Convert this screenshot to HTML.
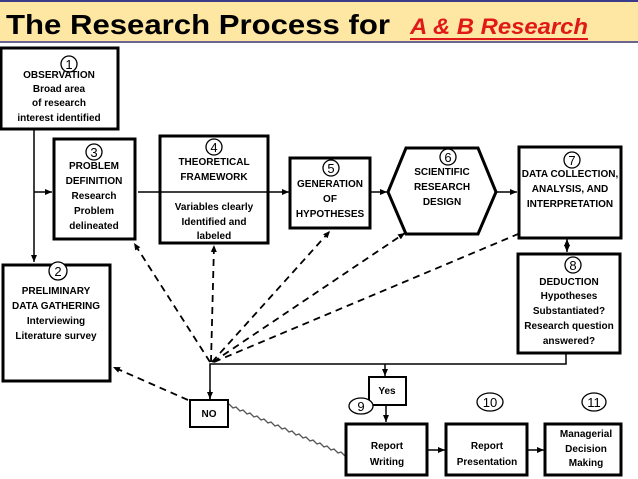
<!DOCTYPE html>
<html><head><style>
body{margin:0;background:#fff;}
svg{display:block;font-family:"Liberation Sans",sans-serif;}
.b{fill:#fff;stroke:#000;stroke-width:3}
.t{font-size:10px;font-weight:bold;text-anchor:middle;fill:#000}
.n{font-size:13px;text-anchor:middle}
.c{fill:#fff;stroke:#000;stroke-width:1.3}
.l{stroke:#000;stroke-width:1.5;fill:none}
.d{stroke:#000;stroke-width:1.8;fill:none;stroke-dasharray:7,5}
</style></head><body>
<svg width="638" height="479" viewBox="0 0 638 479">
<defs><marker id="a" markerWidth="8" markerHeight="8" refX="7" refY="4" orient="auto" markerUnits="userSpaceOnUse"><path d="M0,1 L7,4 L0,7z" fill="#000"/></marker></defs>
<rect x="0" y="0" width="638" height="43" fill="#fde7a2"/>
<line x1="0" y1="1" x2="638" y2="1" stroke="#3a3a8a" stroke-width="2"/>
<line x1="0" y1="42" x2="638" y2="42" stroke="#3a3a8a" stroke-width="1.5"/>
<text x="6" y="34" font-size="28" font-weight="bold" textLength="384" lengthAdjust="spacingAndGlyphs">The Research Process for</text>
<text x="410" y="34" font-size="22" font-weight="bold" font-style="italic" fill="#e01818" textLength="178" lengthAdjust="spacingAndGlyphs">A &amp; B Research</text>
<line x1="410" y1="39" x2="588" y2="39" stroke="#e01818" stroke-width="2"/>

<path class="l" d="M34,129 V262" marker-end="url(#a)"/>
<path class="l" d="M34,192 H52" marker-end="url(#a)"/>
<path class="l" d="M138,192 H289" marker-end="url(#a)"/>
<path class="l" d="M371,192 H387" marker-end="url(#a)"/>
<path class="l" d="M496,192 H517" marker-end="url(#a)"/>
<path class="l" d="M567,244 V252" marker-end="url(#a)"/>
<path class="l" d="M567,247 V239" marker-end="url(#a)"/>
<path class="l" d="M566,353 V364 H210 V399"/>
<path class="l" d="M210,390 V399" marker-end="url(#a)"/>
<path class="l" d="M385,364 V376" marker-end="url(#a)"/>
<path class="l" d="M386,406 V422" marker-end="url(#a)"/>
<path class="l" d="M428,450 H445" marker-end="url(#a)"/>
<path class="l" d="M528,450 H544" marker-end="url(#a)"/>
<path class="d" d="M210,362 L134,243" marker-end="url(#a)"/>
<path class="d" d="M211,362 L214,245" marker-end="url(#a)"/>
<path class="d" d="M212,362 L330,231" marker-end="url(#a)"/>
<path class="d" d="M213,362 L405,233" marker-end="url(#a)"/>
<path class="d" d="M214,362 L530,229" marker-end="url(#a)"/>
<path class="d" d="M188,400 L113,367" marker-end="url(#a)"/>
<path d="M229,404 l4,4 l3,-1 l4,4 l3,-1 l4,4 l3,-1 l4,4 l3,-1 l4,4 l3,-1 l4,4 l3,-1 l4,4 l3,-1 l4,4 l3,-1 l4,4 l3,-1 l4,4 l3,-1 l4,4 l3,-1 l4,4 l3,-1 l4,4 l3,-1 l4,4 l3,-1 l4,4 l3,-1 l4,4 l3,-1 l4,4 l3,-1 l4,4 l3,-1 l4,4 l3,-1 l4,4" stroke="#555" stroke-width="1.3" fill="none"/>

<rect class="b" x="1" y="48" width="117" height="81"/>
<circle class="c" cx="69" cy="64" r="8"/><text class="n" x="69" y="69">1</text>
<text class="t" x="59" y="78">OBSERVATION</text>
<text class="t" x="59" y="92">Broad area</text>
<text class="t" x="59" y="106">of research</text>
<text class="t" x="59" y="121">interest identified</text>

<rect class="b" x="54" y="139" width="81" height="100"/>
<circle class="c" cx="94" cy="152" r="8"/><text class="n" x="94" y="157">3</text>
<text class="t" x="94" y="169">PROBLEM</text>
<text class="t" x="94" y="184">DEFINITION</text>
<text class="t" x="94" y="199">Research</text>
<text class="t" x="94" y="214">Problem</text>
<text class="t" x="94" y="229">delineated</text>

<rect class="b" x="160" y="136" width="108" height="107"/>
<line x1="160" y1="192" x2="268" y2="192" stroke="#000" stroke-width="1.5"/>
<circle class="c" cx="214" cy="147" r="8"/><text class="n" x="214" y="152">4</text>
<text class="t" x="214" y="165">THEORETICAL</text><text class="t" x="214" y="180">FRAMEWORK</text>
<text class="t" x="214" y="210">Variables clearly</text><text class="t" x="214" y="225">Identified and</text><text class="t" x="214" y="239">labeled</text>

<rect class="b" x="290" y="158" width="80" height="70"/>
<circle class="c" cx="331" cy="168" r="8"/><text class="n" x="331" y="173">5</text>
<text class="t" x="330" y="187">GENERATION</text><text class="t" x="330" y="202">OF</text><text class="t" x="330" y="217">HYPOTHESES</text>

<polygon class="b" points="388,192 406,148 478,148 496,192 478,234 406,234"/>
<circle class="c" cx="448" cy="157" r="8"/><text class="n" x="448" y="162">6</text>
<text class="t" x="442" y="175">SCIENTIFIC</text><text class="t" x="442" y="190">RESEARCH</text><text class="t" x="442" y="205">DESIGN</text>

<rect class="b" x="519" y="147" width="102" height="91"/>
<circle class="c" cx="572" cy="160" r="8"/><text class="n" x="572" y="165">7</text>
<text class="t" x="570" y="177">DATA COLLECTION,</text><text class="t" x="570" y="192">ANALYSIS, AND</text><text class="t" x="570" y="207">INTERPRETATION</text>

<rect class="b" x="518" y="254" width="102" height="99"/>
<circle class="c" cx="573" cy="265" r="8"/><text class="n" x="573" y="270">8</text>
<text class="t" x="569" y="285">DEDUCTION</text><text class="t" x="569" y="299">Hypotheses</text><text class="t" x="569" y="314">Substantiated?</text><text class="t" x="569" y="329">Research question</text><text class="t" x="569" y="344">answered?</text>

<rect class="b" x="3" y="265" width="107" height="116"/>
<circle class="c" cx="58" cy="271" r="9"/><text class="n" x="58" y="276">2</text>
<text class="t" x="56" y="294">PRELIMINARY</text><text class="t" x="56" y="309">DATA GATHERING</text><text class="t" x="56" y="324">Interviewing</text><text class="t" x="56" y="339">Literature survey</text>

<rect class="b" x="369" y="377" width="37" height="28" style="stroke-width:2"/>
<text class="t" x="387" y="394">Yes</text>
<ellipse class="c" cx="361" cy="406" rx="12" ry="8"/><text class="n" x="361" y="411">9</text>
<rect class="b" x="190" y="400" width="38" height="27" style="stroke-width:2"/>
<text class="t" x="209" y="417">NO</text>

<rect class="b" x="346" y="424" width="81" height="51"/>
<text class="t" x="387" y="449">Report</text><text class="t" x="387" y="465">Writing</text>
<ellipse class="c" cx="490" cy="402" rx="13" ry="9"/><text class="n" x="490" y="407">10</text>
<rect class="b" x="446" y="424" width="81" height="51"/>
<text class="t" x="487" y="449">Report</text><text class="t" x="487" y="465">Presentation</text>
<ellipse class="c" cx="594" cy="402" rx="12" ry="9"/><text class="n" x="594" y="407">11</text>
<rect class="b" x="545" y="424" width="76" height="51"/>
<text class="t" x="586" y="437">Managerial</text><text class="t" x="586" y="452">Decision</text><text class="t" x="586" y="466">Making</text>
</svg>
</body></html>
